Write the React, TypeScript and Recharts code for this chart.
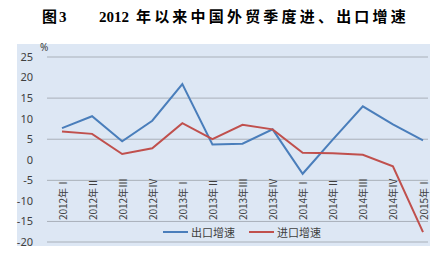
import { LineChart, Line, XAxis, YAxis, CartesianGrid } from 'recharts';

const quarters = [
  '2012年Ⅰ', '2012年Ⅱ', '2012年Ⅲ', '2012年Ⅳ',
  '2013年Ⅰ', '2013年Ⅱ', '2013年Ⅲ', '2013年Ⅳ',
  '2014年Ⅰ', '2014年Ⅱ', '2014年Ⅲ', '2014年Ⅳ',
  '2015年Ⅰ',
];
const exportGrowth = [7.7, 10.6, 4.5, 9.5, 18.4, 3.7, 3.9, 7.4, -3.4, 4.9, 13.0, 8.6, 4.7];
const importGrowth = [6.9, 6.3, 1.4, 2.8, 8.9, 5.0, 8.5, 7.4, 1.7, 1.6, 1.2, -1.6, -17.6];
const yTicks = [-20, -15, -10, -5, 0, 5, 10, 15, 20, 25];

const BLUE = '#4a7ebb';
const RED = '#c0504d';

const data = quarters.map((q, i) => ({ name: q, exp: exportGrowth[i], imp: importGrowth[i] }));

// labels sit inside the plot, rotated, ~51px above the axis
function QuarterTick({ x, y, payload }: any) {
  const ty = y - 51;
  return (
    <text
      x={x}
      y={ty}
      transform={`rotate(-90 ${x} ${ty})`}
      textAnchor="middle"
      dominantBaseline="central"
      fontSize={10}
      fill="#404040"
      fontFamily="'Noto Sans CJK SC', sans-serif"
    >
      {payload.value}
    </text>
  );
}

const legendItems = [
  { label: '出口增速', color: BLUE },
  { label: '进口增速', color: RED },
];

const titleFont = "'Liberation Serif', 'Noto Sans CJK SC', serif";

export default function App() {
  return (
    <div style={{ position: 'absolute', left: 0, top: 0, width: 435, height: 254, background: '#fff' }}>
      <div style={{
        position: 'absolute', left: 42, top: 5, fontSize: 15, fontWeight: 'bold', whiteSpace: 'pre',
        letterSpacing: 2, fontFamily: titleFont, color: '#000',
      }}>
        图3
      </div>
      <div style={{
        position: 'absolute', left: 99, top: 5, fontSize: 15, fontWeight: 'bold', whiteSpace: 'pre',
        fontFamily: titleFont, color: '#000',
      }}>
        2012<span style={{ letterSpacing: 3.2 }}> 年以来中国外贸季度进、出口增速</span>
      </div>
      <div style={{ position: 'absolute', left: 17, top: 44, width: 413, height: 202, background: '#dde7f4' }} />
      <div style={{ position: 'absolute', left: 40, top: 40, fontSize: 10, color: '#404040', fontFamily: "'Noto Sans', sans-serif" }}>%</div>
      <div style={{ position: 'absolute', left: 0, top: 0 }}>
        <LineChart width={435} height={254} data={data} margin={{ top: 57, right: 7, bottom: 11, left: 0 }}>
          <CartesianGrid vertical={false} stroke="#a9b0b9" strokeWidth={1} />
          <XAxis
            dataKey="name"
            height={1}
            axisLine={false}
            tickLine={false}
            interval={0}
            padding={{ left: 15, right: 5 }}
            tick={<QuarterTick />}
          />
          <YAxis
            width={47}
            domain={[-20, 25]}
            ticks={yTicks}
            axisLine={false}
            tickLine={false}
            tickMargin={8}
            tick={{ fontSize: 11, fill: '#404040', fontFamily: "'Noto Sans', sans-serif" }}
          />
          <Line dataKey="exp" name="出口增速" stroke={BLUE} strokeWidth={2} dot={false} isAnimationActive={false} />
          <Line dataKey="imp" name="进口增速" stroke={RED} strokeWidth={2} dot={false} isAnimationActive={false} />
        </LineChart>
      </div>
      <div style={{
        position: 'absolute', left: 163, top: 224, display: 'flex', gap: 14, fontSize: 11,
        color: '#404040', fontFamily: "'Noto Sans CJK SC', sans-serif",
      }}>
        {legendItems.map(it => (
          <div key={it.label} style={{ display: 'flex', alignItems: 'center' }}>
            <span style={{ display: 'inline-block', width: 25, height: 2, background: it.color, marginRight: 3 }} />
            {it.label}
          </div>
        ))}
      </div>
    </div>
  );
}
